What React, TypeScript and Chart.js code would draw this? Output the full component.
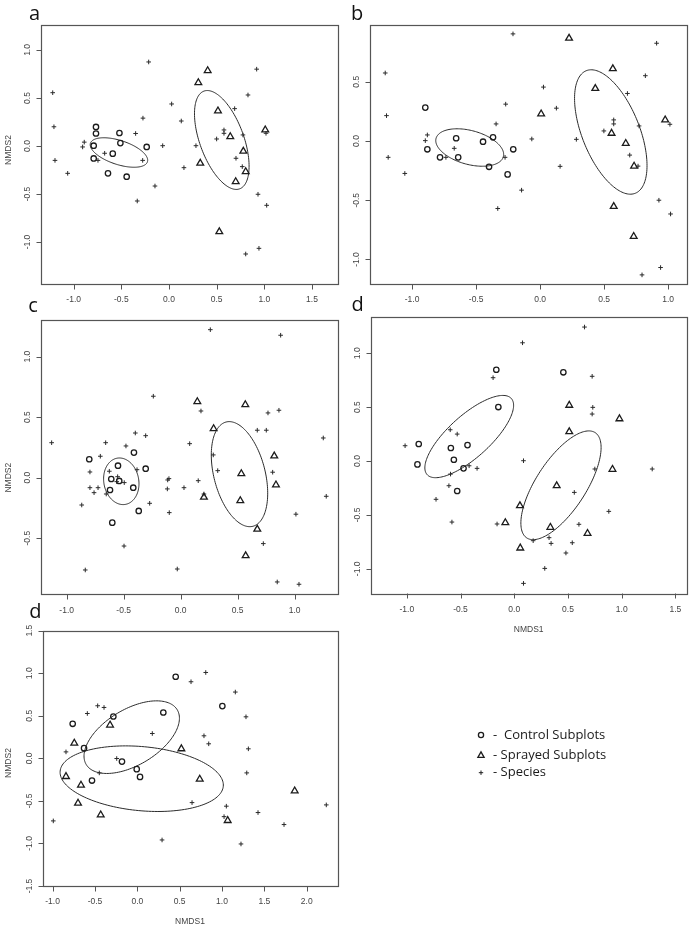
import React, { useEffect, useRef } from "react";
import { Chart, registerables } from "chart.js";

Chart.register(...registerables);

type P = [number, number];
// ellipse: centre x, centre y, first semi-axis (x, y), second semi-axis (x, y), in data units
type E = [number, number, number, number, number, number];

const W = 692;
const H = 928;

// ---------- panel a ----------
const aXTicks = [-1, -0.5, 0, 0.5, 1, 1.5];
const aYTicks = [-1, -0.5, 0, 0.5, 1];
const aXRange = [-1.346, 1.766];
const aYRange = [-1.4375, 1.26];
const aControl: P[] = [[-0.766, 0.198], [-0.766, 0.13], [-0.52, 0.135], [-0.79, 0.003], [-0.51, 0.03], [-0.234, -0.01], [-0.59, -0.08], [-0.79, -0.13], [-0.64, -0.285], [-0.444, -0.32]];
const aSprayed: P[] = [[0.406, 0.785], [0.308, 0.66], [0.514, 0.365], [0.643, 0.097], [1.01, 0.167], [0.78, -0.055], [0.328, -0.18], [0.805, -0.267], [0.7, -0.372], [0.528, -0.893]];
const aSpecies: P[] = [[-1.22, 0.555], [-1.207, 0.2], [-1.196, -0.15], [-1.063, -0.285], [-0.889, 0.04], [-0.906, -0.01], [-0.675, -0.076], [-0.745, -0.15], [-0.35, 0.13], [-0.273, 0.29], [-0.276, -0.15], [-0.213, 0.875], [-0.066, 0.003], [-0.147, -0.417], [-0.333, -0.573], [0.028, 0.4375], [0.129, 0.26], [0.157, -0.226], [0.283, 0.003], [0.5, 0.073], [0.577, 0.167], [0.577, 0.132], [0.689, 0.389], [0.776, 0.115], [0.703, -0.128], [0.769, -0.215], [0.829, 0.531], [0.92, 0.8], [1.018, 0.132], [0.934, -0.503], [1.025, -0.618], [0.944, -1.066], [0.805, -1.125]];
const aEllControl: E = [-0.525, -0.068, 0.299, -0.097, -0.039, -0.119];
const aEllSprayed: E = [0.554, 0.0625, 0.187, -0.509, -0.217, -0.078];

// ---------- panel b ----------
const bXTicks = [-1, -0.5, 0, 0.5, 1];
const bYTicks = [-1, -0.5, 0, 0.5];
const bXRange = [-1.329, 1.145];
const bYRange = [-1.207, 0.979];
const bControl: P[] = [[-0.897, 0.282], [-0.881, -0.07], [-0.782, -0.138], [-0.656, 0.023], [-0.64, -0.138], [-0.446, -0.006], [-0.368, 0.031], [-0.399, -0.218], [-0.254, -0.282], [-0.21, -0.07]];
const bSprayed: P[] = [[0.226, 0.867], [0.568, 0.61], [0.431, 0.443], [0.008, 0.229], [0.977, 0.178], [0.558, 0.065], [0.669, -0.02], [0.734, -0.212], [0.575, -0.553], [0.731, -0.805]];
const bSpecies: P[] = [[-1.21, 0.574], [-1.2, 0.214], [-1.187, -0.138], [-1.057, -0.274], [-0.881, 0.051], [-0.897, 0.003], [-0.671, -0.062], [-0.736, -0.138], [-0.344, 0.144], [-0.269, 0.311], [-0.274, -0.138], [-0.331, -0.57], [-0.212, 0.904], [-0.065, 0.017], [-0.145, -0.415], [0.026, 0.455], [0.127, 0.277], [0.156, -0.214], [0.283, 0.014], [0.498, 0.085], [0.575, 0.178], [0.575, 0.144], [0.682, 0.401], [0.773, 0.127], [0.7, -0.119], [0.765, -0.212], [0.822, 0.551], [0.91, 0.825], [1.014, 0.141], [0.928, -0.5], [1.019, -0.616], [0.941, -1.068], [0.796, -1.13]];
const bEllControl: E = [-0.55, -0.055, 0.263, -0.077, -0.034, -0.138];
const bEllSprayed: E = [0.552, 0.076, 0.192, -0.517, -0.208, -0.0915];

// ---------- panel c ----------
const cXTicks = [-1, -0.5, 0, 0.5, 1];
const cYTicks = [-0.5, 0, 0.5, 1];
const cXRange = [-1.228, 1.374];
const cYRange = [-0.964, 1.303];
const cControl: P[] = [[-0.802, 0.152], [-0.55, 0.099], [-0.41, 0.207], [-0.307, 0.074], [-0.609, -0.011], [-0.539, -0.027], [-0.62, -0.102], [-0.416, -0.083], [-0.368, -0.275], [-0.6, -0.372]];
const cSprayed: P[] = [[0.146, 0.628], [0.567, 0.603], [0.289, 0.405], [0.821, 0.179], [0.532, 0.033], [0.836, -0.06], [0.204, -0.162], [0.523, -0.19], [0.672, -0.426], [0.57, -0.645]];
const cSpecies: P[] = [[-1.132, 0.289], [-0.868, -0.226], [-0.837, -0.763], [-0.796, 0.047], [-0.796, -0.083], [-0.76, -0.124], [-0.725, -0.083], [-0.705, 0.177], [-0.658, 0.289], [-0.626, 0.053], [-0.653, -0.135], [-0.553, 0.008], [-0.561, -0.033], [-0.495, -0.041], [-0.48, 0.262], [-0.398, 0.369], [-0.307, 0.347], [-0.383, 0.066], [-0.272, -0.212], [-0.497, -0.565], [-0.24, 0.673], [-0.114, -0.019], [-0.103, -0.008], [-0.117, -0.093], [-0.1, -0.289], [-0.03, -0.755], [0.26, 1.223], [0.877, 1.177], [0.178, 0.551], [0.079, 0.281], [0.029, -0.083], [0.154, -0.025], [0.204, -0.135], [0.286, 0.188], [0.325, 0.058], [0.766, 0.535], [0.862, 0.557], [0.672, 0.392], [0.751, 0.392], [0.807, 0.045], [1.251, 0.328], [1.277, -0.154], [1.011, -0.302], [0.725, -0.545], [0.847, -0.862], [1.038, -0.881]];
const cEllControl: E = [-0.521, -0.03, 0.036, -0.191, -0.151, -0.025];
const cEllSprayed: E = [0.516, 0.029, 0.117, -0.431, -0.218, -0.052];

// ---------- panel d ----------
const dXTicks = [-1, -0.5, 0, 0.5, 1, 1.5];
const dYTicks = [-1, -0.5, 0, 0.5, 1];
const dXRange = [-1.336, 1.605];
const dYRange = [-1.227, 1.339];
const dControl: P[] = [[-0.167, 0.847], [-0.148, 0.501], [-0.889, 0.158], [-0.901, -0.031], [-0.59, 0.121], [-0.435, 0.148], [-0.562, 0.012], [-0.472, -0.068], [-0.531, -0.278], [0.457, 0.823]];
const dSprayed: P[] = [[0.512, 0.517], [0.979, 0.392], [0.512, 0.272], [0.914, -0.077], [0.395, -0.229], [0.053, -0.415], [0.336, -0.615], [0.682, -0.671], [0.056, -0.807], [-0.083, -0.572]];
const dSpecies: P[] = [[-0.197, 0.773], [-1.016, 0.142], [-0.596, 0.29], [-0.531, 0.25], [-0.42, -0.044], [-0.346, -0.068], [-0.593, -0.121], [-0.608, -0.229], [-0.728, -0.355], [-0.58, -0.566], [-0.16, -0.584], [0.654, 1.243], [0.077, 1.097], [0.725, 0.786], [0.731, 0.498], [0.725, 0.436], [0.086, 0.003], [0.75, -0.074], [1.284, -0.074], [0.559, -0.291], [0.88, -0.467], [0.602, -0.587], [0.176, -0.739], [0.324, -0.711], [0.343, -0.764], [0.54, -0.758], [0.481, -0.853], [0.284, -0.996], [0.086, -1.135]];
const dEllControl: E = [-0.419, 0.227, 0.392, 0.353, 0.13, -0.145];
const dEllSprayed: E = [0.435, -0.225, 0.319, 0.488, 0.194, -0.128];

// ---------- panel e (second "d") ----------
const eXTicks = [-1, -0.5, 0, 0.5, 1, 1.5, 2];
const eYTicks = [-1.5, -1, -0.5, 0, 0.5, 1, 1.5];
const eXRange = [-1.117, 2.361];
const eYRange = [-1.5, 1.5];
const eControl: P[] = [[-0.763, 0.406], [-0.629, 0.12], [-0.283, 0.492], [0.307, 0.539], [0.453, 0.959], [-0.181, -0.038], [-0.535, -0.261], [-0.007, -0.127], [0.032, -0.218], [1.004, 0.614]];
const eSprayed: P[] = [[-0.744, 0.179], [-0.322, 0.391], [-0.842, -0.214], [-0.665, -0.315], [-0.7, -0.527], [-0.432, -0.665], [0.52, 0.112], [0.737, -0.245], [1.858, -0.382], [1.067, -0.731]];
const eSpecies: P[] = [[-0.468, 0.618], [-0.393, 0.598], [-0.59, 0.527], [-0.842, 0.076], [-0.243, -0.002], [-0.449, -0.171], [0.177, 0.292], [-0.992, -0.735], [0.292, -0.959], [0.634, 0.9], [0.808, 1.009], [1.157, 0.779], [1.283, 0.488], [0.787, 0.265], [0.843, 0.171], [1.311, 0.112], [1.292, -0.171], [0.646, -0.52], [1.051, -0.562], [1.024, -0.685], [1.425, -0.637], [1.732, -0.778], [2.231, -0.547], [1.224, -1.006]];
const eEllControl: E = [-0.066, 0.249, 0.537, 0.322, 0.17, -0.28];
const eEllSprayed: E = [0.052, -0.239, 0.963, -0.089, -0.035, -0.375];

// ---------- legend ----------
const legendLabels = ["-  Control Subplots", "- Sprayed Subplots", "- Species"];
const legendStyles = ["circle", "triangle", "cross"];

type Panel = {
  letter: string;
  letterPos: [number, number];
  box: [number, number, number, number];
  xRange: number[];
  yRange: number[];
  xTicks: number[];
  yTicks: number[];
  control: P[];
  sprayed: P[];
  species: P[];
  ellipses: E[];
  yTitleY?: number;
  xTitle?: boolean;
  legend?: boolean;
};

const panels: Panel[] = [
  { letter: "a", letterPos: [29, 19.5], box: [40.7, 25, 337.3, 284], xRange: aXRange, yRange: aYRange, xTicks: aXTicks, yTicks: aYTicks, control: aControl, sprayed: aSprayed, species: aSpecies, ellipses: [aEllControl, aEllSprayed], yTitleY: 150 },
  { letter: "b", letterPos: [351, 20], box: [370, 25, 688.3, 284], xRange: bXRange, yRange: bYRange, xTicks: bXTicks, yTicks: bYTicks, control: bControl, sprayed: bSprayed, species: bSpecies, ellipses: [bEllControl, bEllSprayed] },
  { letter: "c", letterPos: [28.3, 311.7], box: [40.7, 320, 337.3, 594.3], xRange: cXRange, yRange: cYRange, xTicks: cXTicks, yTicks: cYTicks, control: cControl, sprayed: cSprayed, species: cSpecies, ellipses: [cEllControl, cEllSprayed], yTitleY: 477.7 },
  { letter: "d", letterPos: [351.5, 311], box: [370.7, 316.7, 688.3, 593.3], xRange: dXRange, yRange: dYRange, xTicks: dXTicks, yTicks: dYTicks, control: dControl, sprayed: dSprayed, species: dSpecies, ellipses: [dEllControl, dEllSprayed], xTitle: true },
  { letter: "d", letterPos: [29.3, 618.3], box: [42.7, 630.7, 337.3, 886], xRange: eXRange, yRange: eYRange, xTicks: eXTicks, yTicks: eYTicks, control: eControl, sprayed: eSprayed, species: eSpecies, ellipses: [eEllControl, eEllSprayed], yTitleY: 763, xTitle: true, legend: true },
];

const INK = "#1c1c1c";
const AXIS = "#555";
const LABEL = "#444";
const TICKFONT = '8.5px "Liberation Sans", Arial, sans-serif';
const LETTERFONT = '20px "Open Sans", "Noto Sans", sans-serif';
const LEGENDFONT = '13px "Open Sans", "Noto Sans", sans-serif';

function fmt(v: number) {
  return v.toFixed(1);
}

function drawSymbol(ctx: CanvasRenderingContext2D, style: string, x: number, y: number) {
  ctx.save();
  ctx.strokeStyle = INK;
  ctx.beginPath();
  if (style === "circle") {
    ctx.lineWidth = 1.3;
    ctx.arc(x, y, 2.6, 0, Math.PI * 2);
  } else if (style === "triangle") {
    ctx.lineWidth = 1.3;
    const r = 3.6;
    ctx.moveTo(x, y - r);
    ctx.lineTo(x + r * 0.866, y + r * 0.5);
    ctx.lineTo(x - r * 0.866, y + r * 0.5);
    ctx.closePath();
  } else {
    ctx.lineWidth = 1;
    ctx.moveTo(x - 2.2, y);
    ctx.lineTo(x + 2.2, y);
    ctx.moveTo(x, y - 2.2);
    ctx.lineTo(x, y + 2.2);
  }
  ctx.stroke();
  ctx.restore();
}

function makePlugin(p: Panel) {
  return {
    id: "panelDecor",
    beforeDatasetsDraw(chart: any) {
      const ctx: CanvasRenderingContext2D = chart.ctx;
      const xs = chart.scales.x;
      const ys = chart.scales.y;
      ctx.save();
      ctx.strokeStyle = "#2a2a2a";
      ctx.lineWidth = 1;
      for (const e of p.ellipses) {
        const [cx, cy, ux, uy, vx, vy] = e;
        ctx.beginPath();
        const n = 160;
        for (let i = 0; i <= n; i++) {
          const t = (i / n) * Math.PI * 2;
          const dx = cx + ux * Math.cos(t) + vx * Math.sin(t);
          const dy = cy + uy * Math.cos(t) + vy * Math.sin(t);
          const px = xs.getPixelForValue(dx);
          const py = ys.getPixelForValue(dy);
          if (i === 0) ctx.moveTo(px, py);
          else ctx.lineTo(px, py);
        }
        ctx.closePath();
        ctx.stroke();
      }
      ctx.restore();
    },
    afterDraw(chart: any) {
      const ctx: CanvasRenderingContext2D = chart.ctx;
      const xs = chart.scales.x;
      const ys = chart.scales.y;
      const a = chart.chartArea;
      ctx.save();
      // box
      ctx.strokeStyle = AXIS;
      ctx.lineWidth = 1.2;
      ctx.strokeRect(Math.round(a.left) + 0.5, Math.round(a.top) + 0.5, Math.round(a.right - a.left), Math.round(a.bottom - a.top));
      // ticks
      ctx.lineWidth = 1;
      ctx.beginPath();
      const bottom = Math.round(a.bottom) + 0.5;
      const left = Math.round(a.left) + 0.5;
      for (const t of p.xTicks) {
        const x = Math.round(xs.getPixelForValue(t)) + 0.5;
        ctx.moveTo(x, bottom);
        ctx.lineTo(x, bottom + 5);
      }
      for (const t of p.yTicks) {
        const y = Math.round(ys.getPixelForValue(t)) + 0.5;
        ctx.moveTo(left, y);
        ctx.lineTo(left - 5, y);
      }
      ctx.stroke();
      // tick labels
      ctx.fillStyle = LABEL;
      ctx.font = TICKFONT;
      ctx.textAlign = "center";
      ctx.textBaseline = "middle";
      for (const t of p.xTicks) {
        ctx.fillText(fmt(t), xs.getPixelForValue(t), a.bottom + 16);
      }
      for (const t of p.yTicks) {
        ctx.save();
        ctx.translate(a.left - 13, ys.getPixelForValue(t));
        ctx.rotate(-Math.PI / 2);
        ctx.fillText(fmt(t), 0, 0);
        ctx.restore();
      }
      // axis titles
      if (p.yTitleY !== undefined) {
        ctx.save();
        ctx.translate(8.5, p.yTitleY);
        ctx.rotate(-Math.PI / 2);
        ctx.fillText("NMDS2", 0, 0);
        ctx.restore();
      }
      if (p.xTitle) {
        ctx.fillText("NMDS1", (a.left + a.right) / 2, a.bottom + 36);
      }
      // panel letter
      ctx.fillStyle = "#111";
      ctx.font = LETTERFONT;
      ctx.textAlign = "left";
      ctx.textBaseline = "alphabetic";
      ctx.fillText(p.letter, p.letterPos[0], p.letterPos[1]);
      // legend
      if (p.legend) {
        const ly = [735, 755.5, 772.7];
        ctx.font = LEGENDFONT;
        ctx.fillStyle = "#1a1a1a";
        ctx.textBaseline = "middle";
        legendLabels.forEach((lab, i) => {
          drawSymbol(ctx, legendStyles[i], 481, ly[i]);
          ctx.fillText(lab, 493, ly[i]);
        });
      }
      ctx.restore();
    },
  };
}

function makeConfig(p: Panel): any {
  const toXY = (arr: P[]) => arr.map(([x, y]) => ({ x, y }));
  return {
    type: "scatter",
    data: {
      datasets: [
        { label: "Control Subplots", data: toXY(p.control), pointStyle: "circle", pointRadius: 2.7, pointBorderWidth: 1.3, borderColor: INK, backgroundColor: "rgba(0,0,0,0)" },
        { label: "Sprayed Subplots", data: toXY(p.sprayed), pointStyle: "triangle", pointRadius: 3.9, pointBorderWidth: 1.3, borderColor: INK, backgroundColor: "rgba(0,0,0,0)" },
        { label: "Species", data: toXY(p.species), pointStyle: "cross", pointRadius: 2.3, pointBorderWidth: 1, borderColor: "#2a2a2a", backgroundColor: "rgba(0,0,0,0)" },
      ],
    },
    options: {
      responsive: false,
      animation: false,
      devicePixelRatio: 1,
      events: [],
      layout: { padding: { left: p.box[0], top: p.box[1], right: W - p.box[2], bottom: H - p.box[3] } },
      scales: {
        x: { type: "linear", display: false, min: p.xRange[0], max: p.xRange[1] },
        y: { type: "linear", display: false, min: p.yRange[0], max: p.yRange[1] },
      },
      plugins: { legend: { display: false }, tooltip: { enabled: false } },
    },
    plugins: [makePlugin(p)],
  };
}

export default function App() {
  const refs = useRef<(HTMLCanvasElement | null)[]>([]);
  useEffect(() => {
    const charts = panels.map((p, i) => new Chart(refs.current[i] as HTMLCanvasElement, makeConfig(p)));
    return () => charts.forEach((c) => c.destroy());
  }, []);
  return (
    <div style={{ position: "absolute", left: 0, top: 0, width: W, height: H, background: "#fff" }}>
      {panels.map((_, i) => (
        <canvas
          key={i}
          ref={(el) => {
            refs.current[i] = el;
          }}
          width={W}
          height={H}
          style={{ position: "absolute", left: 0, top: 0, width: W, height: H }}
        />
      ))}
    </div>
  );
}
